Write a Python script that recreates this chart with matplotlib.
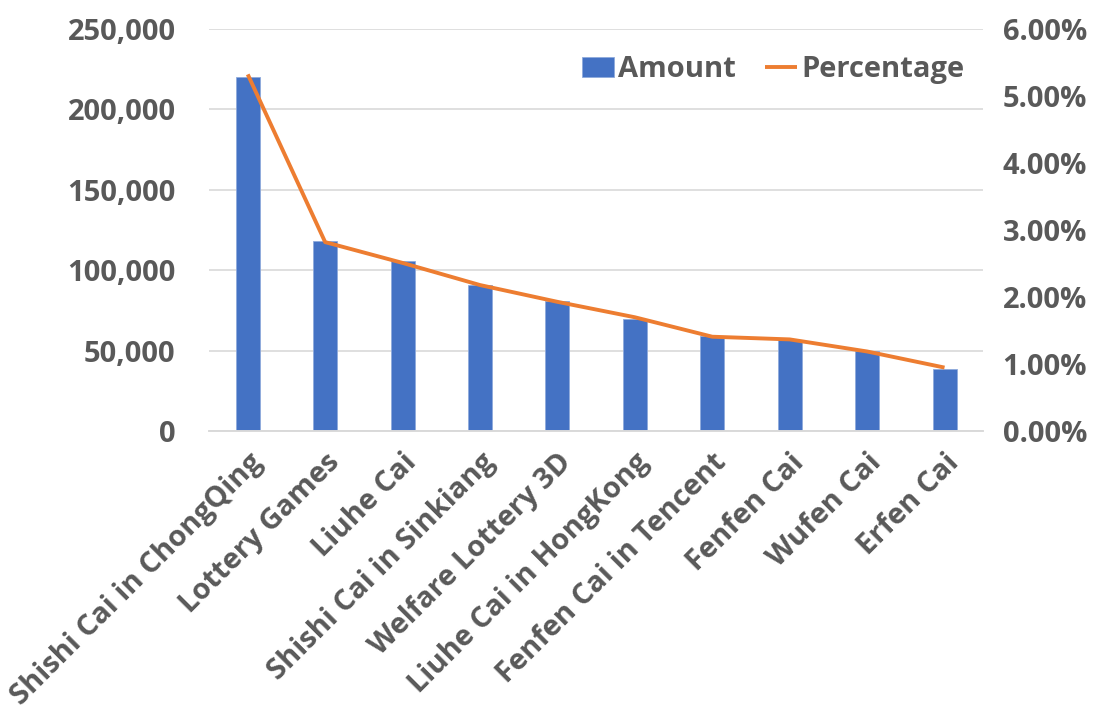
import matplotlib
matplotlib.use("Agg")
import matplotlib.pyplot as plt
from matplotlib.ticker import FuncFormatter

# lottery games ranked by betting amount
games = [
    "Shishi Cai in ChongQing", "Lottery Games", "Liuhe Cai",
    "Shishi Cai in Sinkiang", "Welfare Lottery 3D", "Liuhe Cai in HongKong",
    "Fenfen Cai in Tencent", "Fenfen Cai", "Wufen Cai", "Erfen Cai",
]
amount = [220000, 118000, 106000, 91000, 81000, 70000, 59000, 56500, 50000, 38700]
percentage = [5.32, 2.82, 2.51, 2.18, 1.93, 1.70, 1.41, 1.37, 1.19, 0.95]

left_ticks = [0, 50000, 100000, 150000, 200000, 250000]
right_ticks = [0, 1, 2, 3, 4, 5, 6]

BLUE = "#4472C4"
ORANGE = "#ED7D31"
GREY_TEXT = "#595959"
GRID = "#D9D9D9"

plt.rcParams["font.family"] = ["Open Sans", "DejaVu Sans"]
plt.rcParams["font.weight"] = "bold"

fig = plt.figure(figsize=(11.06, 7.10), dpi=100)
ax = fig.add_axes([0.189, 0.3925, 0.700, 0.567])
ax2 = ax.twinx()

x = range(len(games))
bars = ax.bar(x, amount, width=0.31, color=BLUE, edgecolor="#8FAADC",
              linewidth=0.6, label="Amount", zorder=2)
line, = ax2.plot(x, percentage, color=ORANGE, linewidth=2.8,
                 label="Percentage", solid_capstyle="butt")

ax.set_xlim(-0.5, len(games) - 0.5)
ax.set_ylim(0, 250000)
ax2.set_ylim(0, 6)
ax.set_yticks(left_ticks)
ax2.set_yticks(right_ticks)
ax.yaxis.set_major_formatter(FuncFormatter(lambda v, _: f"{v:,.0f}"))
ax2.yaxis.set_major_formatter(FuncFormatter(lambda v, _: f"{v:.2f}%"))

ax.set_xticks(list(x))
ax.set_xticklabels(games, rotation=45, ha="right", rotation_mode="anchor")

ax.grid(axis="y", color=GRID, linewidth=1.2, zorder=0)
ax.set_axisbelow(True)
for a in (ax, ax2):
    for side in ("top", "left", "right"):
        a.spines[side].set_visible(False)
    a.spines["bottom"].set_color(GRID)
    a.spines["bottom"].set_linewidth(1.2)
    a.tick_params(length=0, labelsize=21, labelcolor=GREY_TEXT)
ax.tick_params(axis="y", pad=24)
ax.tick_params(axis="x", pad=12)
ax2.tick_params(axis="y", pad=14)

leg = ax.legend([bars, line], ["Amount", "Percentage"], loc="upper right",
                bbox_to_anchor=(1.01, 1.0), ncol=2, frameon=False,
                fontsize=21, labelcolor=GREY_TEXT, handlelength=1.1,
                handletextpad=0.15, columnspacing=1.0)

fig.savefig("out.png", dpi=100)
